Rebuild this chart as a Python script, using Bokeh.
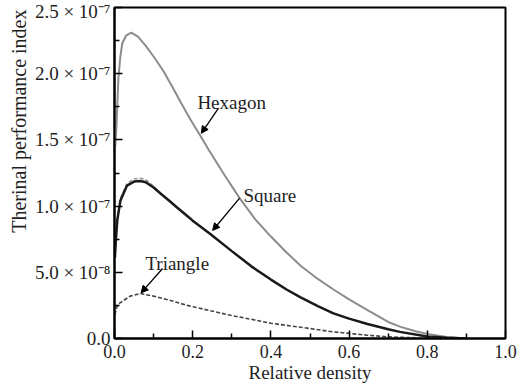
from bokeh.plotting import figure
from bokeh.models import (FixedTicker, CustomJSTickFormatter, PrintfTickFormatter,
                          Label, Arrow, NormalHead, Range1d, ColumnDataSource, Title)
from bokeh.embed import file_html
from bokeh.resources import INLINE

# ---------------- data (y values in units of 1e-7) ----------------
Y_UNIT = 1e-7

hex_x = [0.002, 0.005, 0.01, 0.015, 0.02, 0.03, 0.043, 0.06, 0.08, 0.1, 0.125, 0.15,
         0.17, 0.195, 0.22, 0.24, 0.28, 0.32, 0.36, 0.4, 0.44, 0.476, 0.52, 0.56, 0.6,
         0.647, 0.7, 0.73, 0.77, 0.8, 0.85, 0.9]
hex_y = [1.45, 1.6, 1.97, 2.13, 2.23, 2.29, 2.31, 2.28, 2.21, 2.13, 2.02, 1.89,
         1.78, 1.65, 1.53, 1.43, 1.24, 1.06, 0.90, 0.77, 0.65, 0.55, 0.45, 0.37, 0.295,
         0.215, 0.125, 0.09, 0.055, 0.035, 0.012, 0.0]

sq_x = [0.001, 0.003, 0.007, 0.015, 0.032, 0.05, 0.066, 0.08, 0.1, 0.12, 0.14, 0.16,
        0.18, 0.2, 0.245, 0.3, 0.35, 0.4, 0.44, 0.476, 0.52, 0.56, 0.6, 0.647, 0.7,
        0.73, 0.8, 0.85, 0.9]
sq_y = [0.61, 0.72, 0.89, 1.04, 1.155, 1.185, 1.19, 1.18, 1.14, 1.09, 1.04, 0.99,
        0.94, 0.89, 0.79, 0.66, 0.545, 0.445, 0.37, 0.31, 0.245, 0.19, 0.15, 0.11, 0.07,
        0.05, 0.015, 0.005, 0.0]
sq2_y = [0.61, 0.73, 0.90, 1.06, 1.17, 1.205, 1.21, 1.20, 1.15, 1.09, 1.04, 0.99,
         0.94, 0.89, 0.79, 0.66, 0.545, 0.445, 0.37, 0.31, 0.245, 0.19, 0.15, 0.11, 0.07,
         0.05, 0.015, 0.005, 0.0]

tri_x = [0.001, 0.005, 0.01, 0.02, 0.04, 0.066, 0.1, 0.14, 0.186, 0.245, 0.297, 0.35,
         0.4, 0.476, 0.56, 0.647, 0.7, 0.8, 0.9]
tri_y = [0.18, 0.23, 0.26, 0.28, 0.32, 0.34, 0.32, 0.29, 0.25, 0.21, 0.175, 0.145,
         0.115, 0.085, 0.05, 0.025, 0.012, 0.003, 0.0]

x_ticks = [0.0, 0.2, 0.4, 0.6, 0.8, 1.0]
x_minor = [0.1, 0.3, 0.5, 0.7, 0.9]
y_ticks = [0.0, 0.5e-7, 1.0e-7, 1.5e-7, 2.0e-7, 2.5e-7]
y_minor = [0.25e-7, 0.75e-7, 1.25e-7, 1.75e-7, 2.25e-7]
y_tick_labels = ["0.0", "5.0 × 10⁻⁸", "1.0 × 10⁻⁷", "1.5 × 10⁻⁷", "2.0 × 10⁻⁷", "2.5 × 10⁻⁷"]

# annotation names, text anchor (x, y) and arrow (x0, y0, x1, y1)
ann_names = ["Hexagon", "Square", "Triangle"]
ann_text_pos = [(0.212, 1.78), (0.33, 1.08), (0.079, 0.566)]
ann_arrows = [(0.266, 1.74, 0.222, 1.55), (0.32, 1.06, 0.251, 0.816), (0.123, 0.529, 0.068, 0.345)]

FONT = "Liberation Serif"
TXT = "#1e1e1e"

p = figure(width=526, height=387, x_range=Range1d(0, 1), y_range=Range1d(0, 2.5e-7),
           output_backend="svg", toolbar_location=None,
           min_border_left=114, min_border_right=21, min_border_top=7, min_border_bottom=49)
p.grid.visible = False
p.outline_line_color = "black"
p.outline_line_width = 2
p.background_fill_color = "white"
p.border_fill_color = "white"

def src(xs, ys):
    return ColumnDataSource(dict(x=xs, y=[v * Y_UNIT for v in ys]))

p.line("x", "y", source=src(hex_x, hex_y), line_color="#8c8c8c", line_width=2)
p.line("x", "y", source=src(sq_x, sq2_y), line_color="#9a9a9a", line_width=1.5, line_dash="4 2")
p.line("x", "y", source=src(sq_x, sq_y), line_color="#1a1a1a", line_width=2.5)
p.line("x", "y", source=src(tri_x, tri_y), line_color="#444444", line_width=1.6, line_dash="4 2")

for ax in (p.xaxis[0], p.yaxis[0]):
    ax.axis_line_color = "black"
    ax.axis_line_width = 2
    ax.major_tick_in = 8
    ax.major_tick_out = 0
    ax.minor_tick_in = 5
    ax.minor_tick_out = 0
    ax.major_tick_line_color = "black"
    ax.minor_tick_line_color = "black"
    ax.major_tick_line_width = 1.5
    ax.minor_tick_line_width = 1.5
    ax.major_label_text_font = FONT
    ax.major_label_text_font_size = "18px"
    ax.major_label_text_color = TXT

p.xaxis.ticker = FixedTicker(ticks=x_ticks, minor_ticks=x_minor)
p.xaxis.formatter = PrintfTickFormatter(format="%.1f")
p.xaxis.major_label_standoff = 6
p.xaxis.axis_label = "Relative density"
p.xaxis.axis_label_text_font = FONT
p.xaxis.axis_label_text_font_size = "19px"
p.xaxis.axis_label_text_font_style = "normal"
p.xaxis.axis_label_text_color = TXT
p.xaxis.axis_label_standoff = 1

p.yaxis.ticker = FixedTicker(ticks=y_ticks, minor_ticks=y_minor)
p.yaxis.formatter = CustomJSTickFormatter(args=dict(labels=y_tick_labels),
                                          code="return labels[Math.round(tick / 5e-8)];")
p.yaxis.major_label_standoff = 4
p.yaxis[0].major_label_text_font_size = "19px"

p.add_layout(Title(text="Therinal performance index", align="right", offset=2,
                   text_font=FONT, text_font_size="20px", text_font_style="normal",
                   text_color=TXT, standoff=4), "left")

for name, (tx, ty), (x0, y0, x1, y1) in zip(ann_names, ann_text_pos, ann_arrows):
    p.add_layout(Label(x=tx, y=ty * Y_UNIT, text=name, text_font=FONT, text_font_size="19px",
                       text_color=TXT, text_baseline="alphabetic", text_align="left"))
    p.add_layout(Arrow(end=NormalHead(size=7, fill_color="black", line_color="black"),
                       x_start=x0, y_start=y0 * Y_UNIT, x_end=x1, y_end=y1 * Y_UNIT,
                       line_color="black", line_width=1.3))

open("out.html", "w").write(file_html(p, INLINE))
